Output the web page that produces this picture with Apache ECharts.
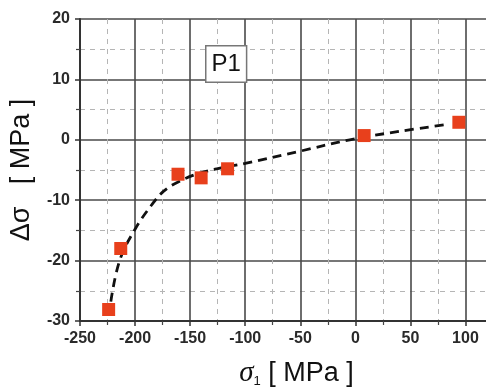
<!DOCTYPE html>
<html>
<head>
<meta charset="utf-8">
<script src="https://cdn.jsdelivr.net/npm/echarts@6/dist/echarts.min.js"></script>
<style>
  html, body { margin: 0; padding: 0; background: #fff; }
  #chart { width: 486px; height: 389px; }
</style>
</head>
<body>
<div id="chart"></div>
<script>
// measured points: sigma_1 [MPa] vs delta sigma [MPa]
const sigma1 = [-224, -213, -161, -140, -116, 8, 94];
const deltaSigma = [-28.1, -18.0, -5.7, -6.3, -4.8, 0.7, 2.9];

// dashed fit curve
const fitX = [-222, -214, -200, -185, -174, -160, -141, -120, -100, -53, -5, 40, 82];
const fitY = [-26.8, -20.0, -14.8, -10.8, -8.5, -6.9, -5.5, -4.6, -3.9, -2.0, 0.0, 1.4, 2.5];

const xTicks = { min: -250, max: 125, interval: 50 };
const yTicks = { min: -30, max: 20, interval: 10 };

const chart = echarts.init(document.getElementById('chart'));

const zip = (a, b) => a.map((v, i) => [v, b[i]]);
const font = 'Liberation Sans, Arial, sans-serif';

const axisCommon = {
  axisLine: { show: true, onZero: false, lineStyle: { color: '#333', width: 2 } },
  axisTick: { show: true, inside: false, length: 5, lineStyle: { color: '#333', width: 1.5 } },
  minorTick: { show: true, splitNumber: 2, length: 4, lineStyle: { color: '#444', width: 1.2 } },
  splitLine: { show: true, lineStyle: { color: '#4a4a4a', width: 1.6 } },
  minorSplitLine: { show: true, lineStyle: { color: '#b5b5b5', width: 1, type: [5, 5] } },
  axisLabel: { color: '#2a2a2a', fontSize: 16, fontWeight: 'bold', fontFamily: font }
};

const option = {
  backgroundColor: '#fff',
  animation: false,
  grid: { left: 80, top: 19, right: -7, bottom: 68, outerBoundsMode: 'none', containLabel: false },
  xAxis: Object.assign({}, axisCommon, {
    type: 'value',
    min: xTicks.min, max: xTicks.max, interval: xTicks.interval,
    axisLabel: Object.assign({}, axisCommon.axisLabel, {
      margin: 10,
      formatter: v => (v > 100 ? '' : v)
    }),
    name: '{s|σ}{sub|1}{t| [ MPa ]}',
    nameLocation: 'middle',
    nameGap: 38,
    nameTextStyle: {
      padding: [0, 0, 0, 20],
      rich: {
        s: { fontSize: 29, fontStyle: 'italic', fontFamily: 'Liberation Serif, serif', color: '#111' },
        sub: { fontSize: 13, color: '#111', verticalAlign: 'bottom', padding: [14, 0, 0, 0], fontFamily: font },
        t: { fontSize: 27, color: '#111', fontFamily: font }
      }
    }
  }),
  yAxis: Object.assign({}, axisCommon, {
    type: 'value',
    min: yTicks.min, max: yTicks.max, interval: yTicks.interval,
    axisLabel: Object.assign({}, axisCommon.axisLabel, { margin: 10 }),
    name: 'Δσ   [ MPa ]',
    nameLocation: 'middle',
    nameGap: 45,
    nameTextStyle: { fontSize: 27, color: '#111', fontFamily: font }
  }),
  series: [
    {
      type: 'line',
      data: zip(fitX, fitY),
      smooth: 0.4,
      showSymbol: false,
      symbol: 'none',
      lineStyle: { color: '#111', width: 2.8, type: [9, 6] },
      z: 2
    },
    {
      type: 'scatter',
      data: zip(sigma1, deltaSigma),
      symbol: 'rect',
      symbolSize: 13,
      itemStyle: { color: '#e8401c', opacity: 1 },
      z: 3
    }
  ],
  graphic: [
    {
      type: 'text',
      left: 205,
      top: 45,
      style: {
        text: 'P1',
        fontSize: 24,
        fill: '#111',
        fontFamily: font,
        backgroundColor: '#fff',
        borderColor: '#777',
        borderWidth: 1.5,
        padding: [6, 5, 5, 5]
      },
      z: 10
    }
  ]
};

chart.setOption(option);
</script>
</body>
</html>
